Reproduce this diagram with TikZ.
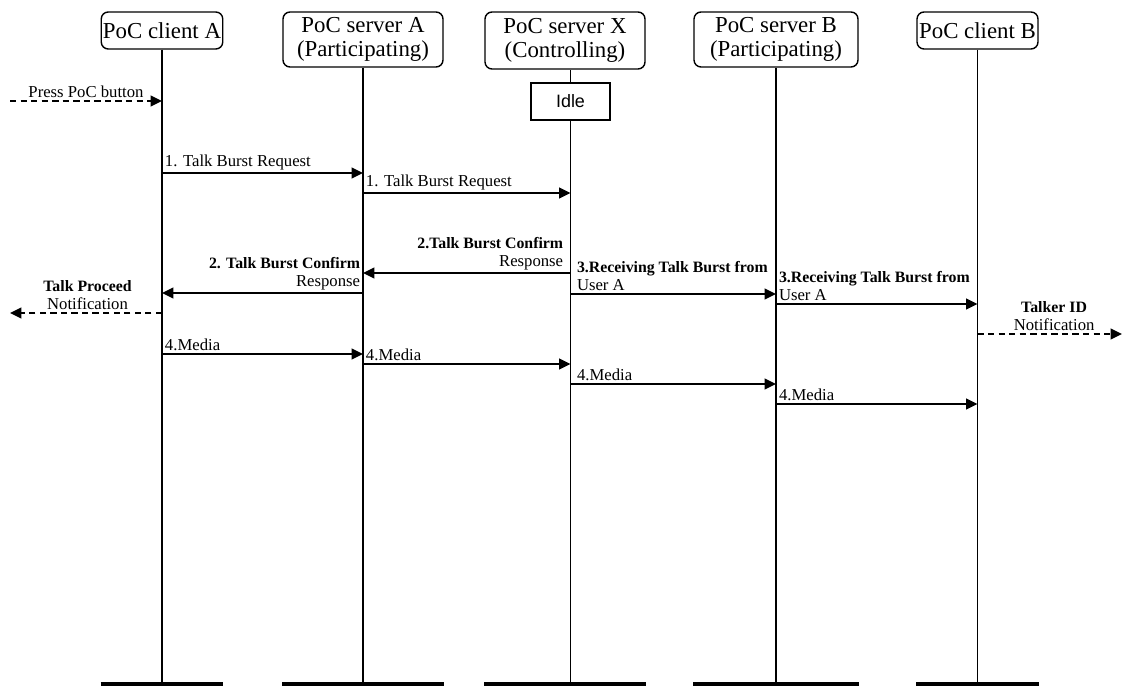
\documentclass[tikz,border=0pt]{standalone}
\usepackage{fontspec}
\setmainfont{Liberation Serif}
\newfontfamily\idlefont{Liberation Sans}
\usetikzlibrary{positioning,arrows.meta}

\newcommand{\msgtitle}[1]{{\fontsize{9}{10.2}\selectfont\bfseries #1}}

\begin{document}
\begin{tikzpicture}[
  entity/.style   = {draw, rounded corners=4pt, line width=0.8pt, inner sep=1pt,
                     font=\fontsize{13}{13.5}\selectfont, align=center},
  statebox/.style = {draw, line width=0.8pt, minimum width=1.58cm, minimum height=0.74cm,
                     font=\idlefont\fontsize{10.2}{12}\selectfont},
  life/.style     = {line width=1pt},
  bar/.style      = {line width=1.8pt},
  msg/.style      = {-{Triangle[length=6.5pt,width=6pt]}, line width=1.4pt},
  ext/.style      = {msg, dash pattern=on 3.6pt off 2.4pt},
  lbl/.style      = {font=\fontsize{9.5}{10.2}\selectfont, inner sep=1pt, align=left}
]
  \useasboundingbox (0,0) rectangle (22.5,-13.72);

  % entities
  \node[entity, minimum width=2.4cm,  minimum height=0.74cm] (cA) at ( 3.24,-0.61) {PoC client A};
  \node[entity, minimum width=3.2cm,  minimum height=1.1cm]  (sA) at ( 7.26,-0.79) {PoC server A\\(Participating)};
  \node[entity, minimum width=3.2cm,  minimum height=1.14cm] (sX) at (11.30,-0.81) {PoC server X\\(Controlling)};
  \node[entity, minimum width=3.28cm, minimum height=1.1cm]  (sB) at (15.52,-0.79) {PoC server B\\(Participating)};
  \node[entity, minimum width=2.42cm, minimum height=0.74cm] (cB) at (19.55,-0.61) {PoC client B};

  \node[statebox] (idle) at (11.41,-2.03) {Idle};

  % free ends and message levels
  \coordinate (lft) at (0.2,0);
  \coordinate (rgt) at (22.44,0);
  \coordinate (bot) at (0,-13.68);
  \foreach \lvl/\yy in {press/-2.02, req1/-3.46, req2/-3.86, cnf1/-5.46, cnf2/-5.86,
                        prc/-6.26, rcv1/-5.88, rcv2/-6.08, tlk/-6.68,
                        med1/-7.08, med2/-7.28, med3/-7.68, med4/-8.08}
    \coordinate (\lvl) at (0,\yy);

  % lifelines
  \draw[life] (idle.north) -- (idle.north |- sX.south);
  \draw[life] (idle.south) -- (idle.south |- bot);
  \foreach \ent in {cA,sA,sB,cB}
    \draw[life] (\ent.south) -- (\ent.south |- bot);
  \foreach \ent in {cA,sA,sX,sB,cB}
    \draw[bar] (\ent.west |- bot) -- (\ent.east |- bot);

  % messages
  \draw[ext] (lft |- press) -- node[lbl, above] (lpress) {Press PoC button} (cA |- press);

  \draw[msg] (cA |- req1) -- node[lbl, pos=0, anchor=south west] (lreq1) {1. Talk Burst Request} (sA |- req1);
  \draw[msg] (sA |- req2) -- node[lbl, pos=0, anchor=south west] (lreq2) {1. Talk Burst Request} (idle |- req2);

  \draw[msg] (idle |- cnf1) -- node[lbl, pos=0, anchor=south east, align=right, xshift=-2.5pt] (lcnf1)
    {\msgtitle{2.Talk Burst Confirm}\\Response} (sA |- cnf1);
  \draw[msg] (sA |- cnf2) -- node[lbl, pos=0, anchor=south east, align=right] (lcnf2)
    {\msgtitle{2. Talk Burst Confirm}\\Response} (cA |- cnf2);
  \draw[ext] (cA |- prc) -- node[lbl, above, align=center, pos=0.49] (lprc)
    {\msgtitle{Talk Proceed}\\Notification} (lft |- prc);

  \draw[msg] (idle |- rcv1) -- node[lbl, pos=0, anchor=south west, xshift=2pt] (lrcv1)
    {\msgtitle{3.Receiving Talk Burst from}\\User A} (sB |- rcv1);
  \draw[msg] (sB |- rcv2) -- node[lbl, pos=0, anchor=south west] (lrcv2)
    {\msgtitle{3.Receiving Talk Burst from}\\User A} (cB |- rcv2);
  \draw[ext] (cB |- tlk) -- node[lbl, above, align=center, pos=0.53] (ltlk)
    {\msgtitle{Talker ID}\\Notification} (rgt |- tlk);

  \draw[msg] (cA |- med1) -- node[lbl, pos=0, anchor=south west] (lmed1) {4.Media} (sA |- med1);
  \draw[msg] (sA |- med2) -- node[lbl, pos=0, anchor=south west] (lmed2) {4.Media} (idle |- med2);
  \draw[msg] (idle |- med3) -- node[lbl, pos=0, anchor=south west, xshift=2pt] (lmed3) {4.Media} (sB |- med3);
  \draw[msg] (sB |- med4) -- node[lbl, pos=0, anchor=south west] (lmed4) {4.Media} (cB |- med4);
\end{tikzpicture}
\end{document}
